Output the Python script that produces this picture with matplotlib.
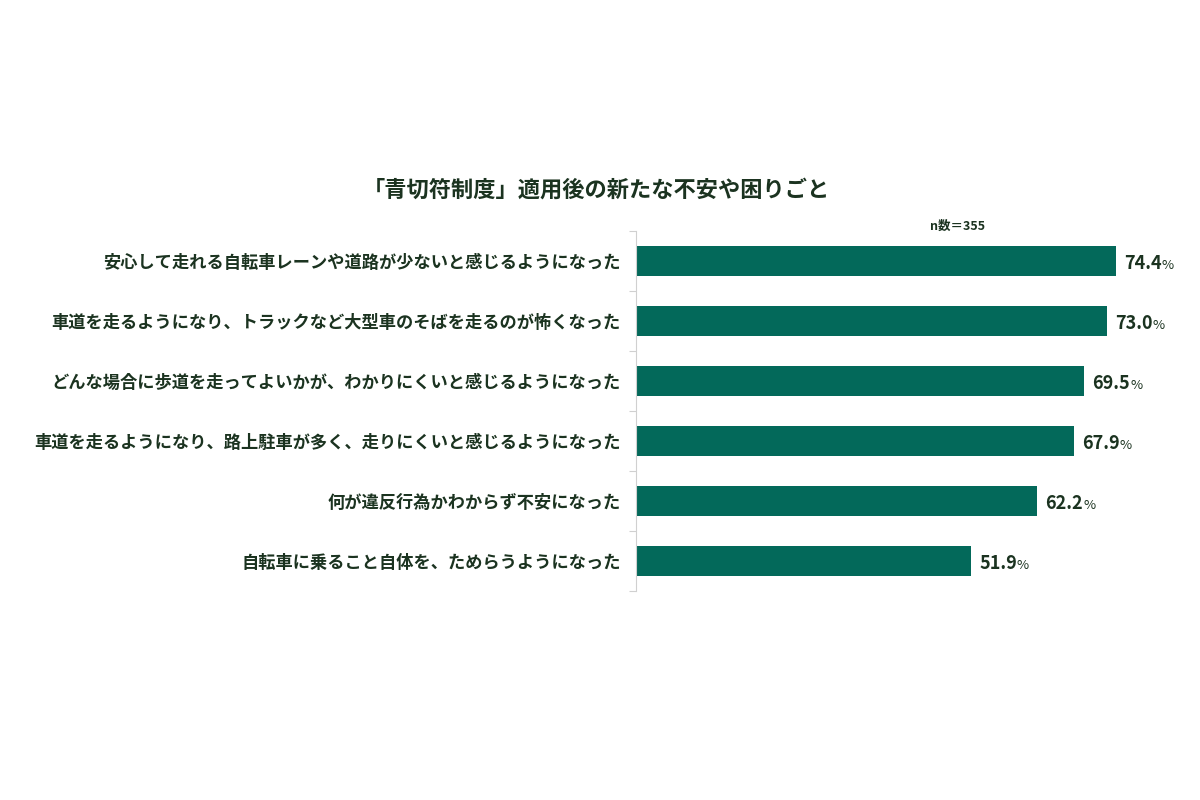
import matplotlib
matplotlib.use("Agg")
import matplotlib.pyplot as plt
import numpy as np

plt.rcParams['font.family'] = ['Noto Sans CJK JP', 'DejaVu Sans']

categories = [
    "安心して走れる自転車レーンや道路が少ないと感じるようになった",
    "車道を走るようになり、トラックなど大型車のそばを走るのが怖くなった",
    "どんな場合に歩道を走ってよいかが、わかりにくいと感じるようになった",
    "車道を走るようになり、路上駐車が多く、走りにくいと感じるようになった",
    "何が違反行為かわからず不安になった",
    "自転車に乗ること自体を、ためらうようになった",
]
values = [74.4, 73.0, 69.5, 67.9, 62.2, 51.9]
title = "「青切符制度」適用後の新たな不安や困りごと"
note = "n数＝355"

bar_color = "#03695a"
text_color = "#1b3320"

fig = plt.figure(figsize=(12, 8), dpi=100)
ax = fig.add_axes([0.53, 0.261, 0.43, 0.45])

y = np.arange(len(categories))
ax.barh(y, values, height=0.5, color=bar_color)
ax.set_ylim(len(categories) - 0.5, -0.5)
ax.set_xlim(0, 80)

ax.set_yticks(y)
ax.set_yticklabels(categories, fontsize=12.4, fontweight='bold', color=text_color)
ax.tick_params(axis='y', which='major', length=0, pad=11)
ax.set_yticks(np.arange(-0.5, len(categories) + 0.5, 1), minor=True)
ax.tick_params(axis='y', which='minor', length=5, color='#d0d0d0', width=0.8)
ax.set_xticks([])
for s in ['top', 'right', 'bottom']:
    ax.spines[s].set_visible(False)
ax.spines['left'].set_color('#d0d0d0')
ax.spines['left'].set_linewidth(0.8)

for yi, v in zip(y, values):
    t = ax.annotate(f"{v:.1f}", xy=(v, yi), xytext=(6, 0), textcoords='offset points',
                    va='center_baseline', ha='left', fontsize=13, fontweight='bold',
                    color=text_color)
    ax.annotate("%", xy=(1, 0), xycoords=t, xytext=(0, 0.5), textcoords='offset points',
                va='bottom', ha='left', fontsize=9.5, color=text_color)

fig.text(0.497, 0.762, title, ha='center', va='center', fontsize=16, fontweight='bold', color=text_color)
fig.text(0.798, 0.717, note, ha='center', va='center', fontsize=9, fontweight='bold', color=text_color)

fig.savefig("out.png", dpi=100, facecolor='white')
